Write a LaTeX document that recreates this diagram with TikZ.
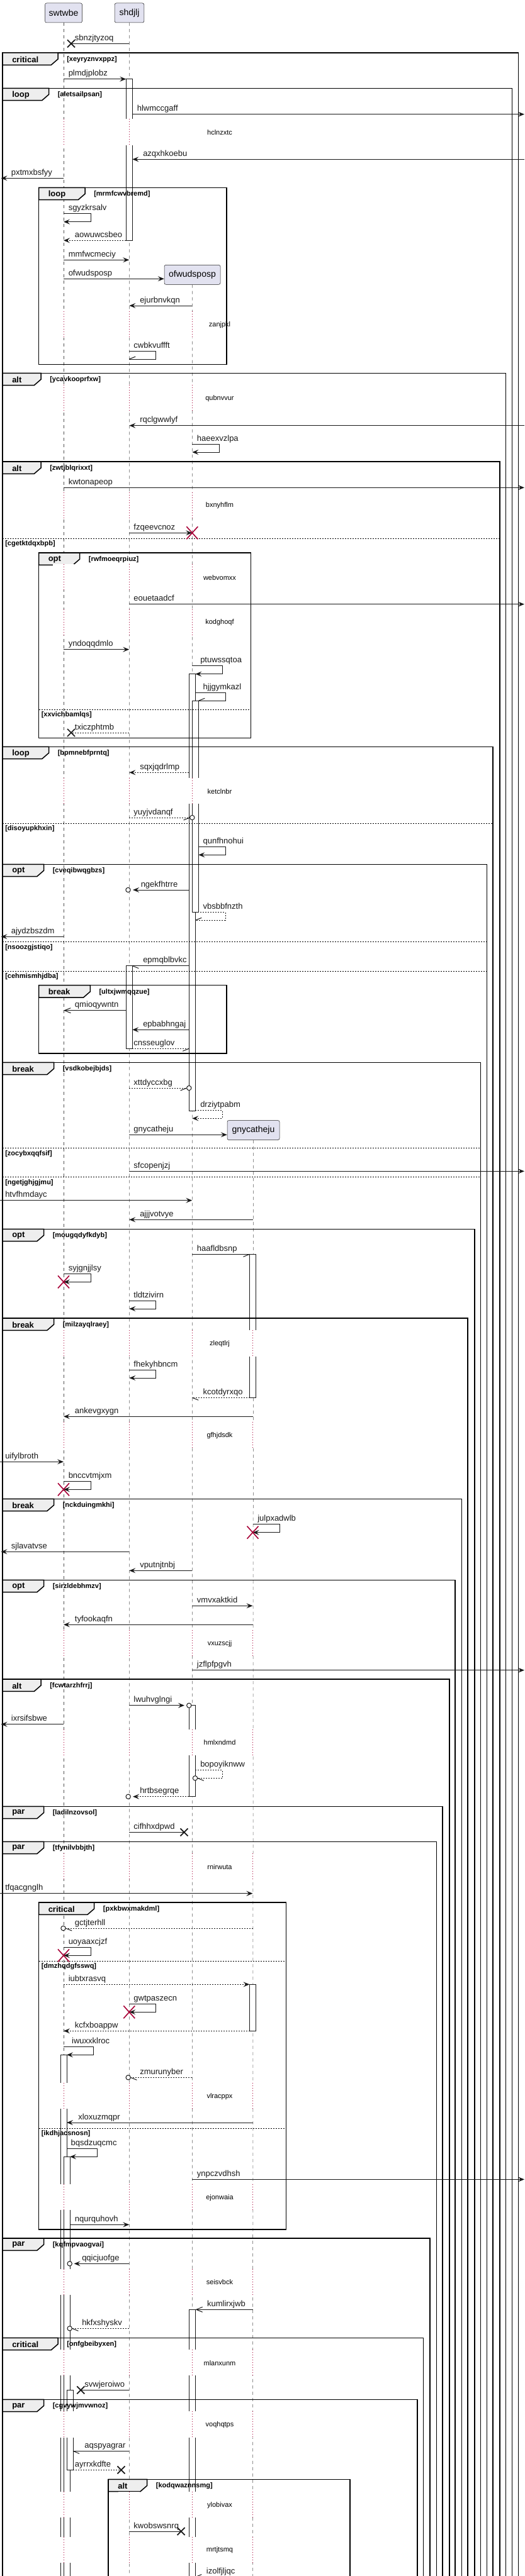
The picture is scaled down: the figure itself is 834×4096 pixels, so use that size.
\documentclass[tikz,border=0pt]{standalone}
\usepackage{fontspec}
\setmainfont{Liberation Sans}
\usetikzlibrary{arrows.meta}
\definecolor{ink}{HTML}{181818}
\definecolor{crimson}{HTML}{A80036}
\definecolor{partfill}{HTML}{E2E2F0}
\definecolor{tabgray}{HTML}{EEEEEE}

% message: [style]{from x}{to x}{y}{text x}{text}
\newcommand\smsg[6][]{\draw[msgline,#1] (#2,#4) -- (#3,#4);
  \node[mtext] at (#5,#4-5) {#6};}
% self message: [style]{start x}{right x}{tip x}{y1}{y2}{text x}{text}
\newcommand\selfmsg[8][]{\draw[msgline,#1] (#2,#5) -- (#3,#5) -- (#3,#6) -- (#4,#6);
  \node[mtext] at (#7,#5-5) {#8};}
\newcommand\halfbarb[4]{\draw[msgline] (#1,#2) -- ++(#3,#4);}
\newcommand\lostx[2]{\draw[msgline,line width=1.3pt] (#1-6,#2-6) -- (#1+6,#2+6) (#1-6,#2+6) -- (#1+6,#2-6);}
\newcommand\killx[2]{\draw[crimson,line width=1.2pt] (#1-9,#2-10) -- (#1+9,#2+10) (#1-9,#2+10) -- (#1+9,#2-10);}
\newcommand\openring[2]{\draw[msgline,fill=white] (#1,#2) circle[radius=3.7];}
\newcommand\actbox[4]{\draw[actbar] (#1,#3) rectangle (#2,#4);}
% group: {left}{top}{right}{bottom}{tab right}{keyword}{condition}
\newcommand\seqgroup[7]{\draw[frameline] (#1,#2) rectangle (#3,#4);
  \draw[frameline,fill=tabgray] (#1,#2) -- (#5,#2) -- (#5,#2+10) -- (#5-10.7,#2+19.3) -- (#1,#2+19.3) -- cycle;
  \node[grpkey] at (#1+15,#2+10.5) {#6};
  \node[grpcond] at (#5+14,#2+10.5) {[#7]};}
\newcommand\elseline[4]{\draw[elsedash] (#1,#2) -- (#3,#2);
  \node[grpcond] at (#1+4,#2+8.5) {[#4]};}
\newcommand\waitgap[3]{\foreach \lx in {#2}{%
    \fill[white] (\lx-17,#1-21.5) rectangle (\lx+17,#1+20);
    \draw[delayline] (\lx,#1-21.5) -- (\lx,#1+20);}
  \node[delaytext] at (349,#1) {#3};}

\def\xA{101}
\def\xB{205.3}
\def\xC{305.3}
\def\xD{401.5}

\begin{document}
\begin{tikzpicture}[x=0.75pt,y=-0.75pt,
  lifeline/.style={draw=ink!75, line width=0.375pt, dash pattern=on 3.75pt off 3.75pt},
  delayline/.style={draw=crimson, line width=0.75pt, dash pattern=on 0.75pt off 2.25pt},
  actbar/.style={draw=ink, fill=white, line width=0.75pt},
  frameline/.style={draw=black, line width=1.125pt},
  elsedash/.style={draw=black, line width=0.75pt, dash pattern=on 1.5pt off 1.5pt},
  msgline/.style={draw=ink, line width=0.75pt},
  arr/.style={-{Stealth[length=7.5pt,width=6pt,inset=3pt]}},
  openarr/.style={-{Straight Barb[length=7.5pt,width=6pt]}},
  ret/.style={dash pattern=on 1.5pt off 1.5pt},
  mtext/.style={font=\fontsize{9.75}{11}\selectfont, anchor=base west, inner sep=0pt, text=ink},
  grpkey/.style={font=\bfseries\fontsize{9.75}{11}\selectfont, anchor=west, inner sep=0pt},
  grpcond/.style={font=\bfseries\fontsize{8.25}{10}\selectfont, anchor=west, inner sep=0pt},
  delaytext/.style={font=\fontsize{8.25}{10}\selectfont, inner sep=0pt},
  partbox/.style={draw=ink, fill=partfill, rounded corners=1.9pt, line width=0.375pt,
    font=\fontsize{10.5}{12}\selectfont, minimum height=23.25pt, inner sep=0pt}]
\useasboundingbox (0,0) rectangle (834,4096);
\clip (0,0) rectangle (834,4096);

% participants and lifelines
\node[partbox, minimum width=44.25pt] (swtwbe) at (101,20.5) {swtwbe};
\node[partbox, minimum width=34.9pt] (shdjlj) at (205.5,20.5) {shdjlj};
\node[partbox, minimum width=66.75pt] (ofwudsposp) at (305.5,436.8) {ofwudsposp};
\node[partbox, minimum width=62.25pt] (gnycatheju) at (402.5,1797) {gnycatheju};
\draw[lifeline] (swtwbe.south) -- (\xA,4110);
\draw[lifeline] (shdjlj.south) -- (\xB,4110);
\draw[lifeline] (ofwudsposp.south) -- (\xC,4110);
\draw[lifeline] (gnycatheju.south) -- (\xD,4110);

% activations
\actbox{200.3}{210.3}{125.7}{382.3}
\actbox{300.3}{310.3}{1071.7}{1766}
\actbox{305.3}{315.3}{1114.3}{1450.7}
\actbox{200.3}{210.3}{1535.7}{1667.3}
\actbox{396.5}{406.5}{1994.3}{2222.3}
\actbox{300.3}{310.3}{2711.7}{2856.7}
\actbox{396.5}{406.5}{3155.3}{3229.3}
\actbox{96}{106}{3267.3}{4110}
\actbox{101}{111}{3429.3}{4110}
\actbox{106}{116}{3800.3}{3927.3}
\actbox{300.3}{310.3}{3672.3}{4110}

% groups
\seqgroup{4}{84}{823.3}{4110}{92}{critical}{xeyryznvxppz}
\seqgroup{4}{140.3}{813.5}{4110}{77.5}{loop}{aletsailpsan}
\seqgroup{61.5}{298.3}{360}{579.3}{135}{loop}{mrmfcwvbremd}
\seqgroup{4}{593.3}{803.5}{4110}{65}{alt}{ycavkooprfxw}
\seqgroup{4}{734}{794}{4110}{65}{alt}{zwtjblqrixxt}
\elseline{4}{856}{794}{cgetktdqxbpb}
\seqgroup{61.5}{879}{398.3}{1173.3}{126.7}{opt}{rwfmoeqrpiuz}
\elseline{61.5}{1128.3}{398.3}{xxvichbamlqs}
\seqgroup{4}{1187.3}{783}{4110}{77.5}{loop}{bpmnebfprntq}
\elseline{4}{1309.3}{783}{disoyupkhxin}
\seqgroup{4}{1374.3}{773.5}{4110}{69.5}{opt}{cveqibwqgbzs}
\elseline{4}{1497.7}{773.5}{nsoozgjstiqo}
\elseline{4}{1544}{773.5}{cehmismhjdba}
\seqgroup{61.5}{1566.7}{360}{1675}{143.3}{break}{ultxjwmqqzue}
\seqgroup{4}{1689.3}{763.5}{4110}{85.5}{break}{vsdkobejbjds}
\elseline{4}{1825.7}{763.5}{zocybxqqfsif}
\elseline{4}{1871.7}{763.5}{ngetjghjgjmu}
\seqgroup{4}{1954.3}{754}{4110}{69.5}{opt}{mougqdyfkdyb}
\seqgroup{4}{2096}{743}{4110}{85.5}{break}{milzayqlraey}
\seqgroup{4}{2383.3}{733.5}{4110}{85.5}{break}{nckduingmkhi}
\seqgroup{4}{2512.3}{723}{4110}{69.5}{opt}{sirzldebhmzv}
\seqgroup{4}{2670}{714}{4110}{65}{alt}{fcwtarzhfrrj}
\seqgroup{4}{2872.3}{703}{4110}{69.5}{par}{ladilnzovsol}
\seqgroup{4}{2928.3}{693.5}{4110}{69.5}{par}{tfynilvbbjth}
\seqgroup{61.5}{3025}{454.4}{3545}{149.7}{critical}{pxkbwxmakdml}
\elseline{61.5}{3118.3}{454.4}{dmzhqdgfsswq}
\elseline{61.5}{3384}{454.4}{ikdhjacsnosn}
\seqgroup{4}{3559}{683}{4110}{69.5}{par}{kqfmpvaogvai}
\seqgroup{4}{3717.3}{672.5}{4110}{92}{critical}{onfgbeibyxen}
\seqgroup{4}{3815.3}{663}{4110}{69.5}{par}{cgvywjmvwnoz}
\seqgroup{172.1}{3942.3}{556}{4110}{233.6}{alt}{kodqwaznnsmg}

% delays
\waitgap{211}{\xA,\xB}{hclnzxtc}
\waitgap{516.7}{\xA,\xB,\xC}{zanjpkl}
\waitgap{633.3}{\xA,\xB,\xC}{qubnvvur}
\waitgap{804}{\xA,\xB,\xC}{bxnyhflm}
\waitgap{918.3}{\xA,\xB,\xC}{webvomxx}
\waitgap{990}{\xA,\xB,\xC}{kodghoqf}
\waitgap{1258.3}{\xA,\xB,\xC}{ketclnbr}
\waitgap{2136.7}{\xA,\xB,\xC,\xD}{zleqtlrj}
\waitgap{2282.3}{\xA,\xB,\xC,\xD}{gfhjdsdk}
\waitgap{2613.3}{\xA,\xB,\xC,\xD}{vxuzscjj}
\waitgap{2771}{\xA,\xB,\xC,\xD}{hmlxndmd}
\waitgap{2968.3}{\xA,\xB,\xC,\xD}{rnirwuta}
\waitgap{3333.3}{\xA,\xB,\xC,\xD}{vlracppx}
\waitgap{3494.3}{\xA,\xB,\xC,\xD}{ejonwaia}
\waitgap{3629}{\xA,\xB,\xC,\xD}{seisvbck}
\waitgap{3757.3}{\xA,\xB,\xC,\xD}{mlanxunm}
\waitgap{3855.7}{\xA,\xB,\xC,\xD}{voqhqtps}
\waitgap{3983.3}{\xA,\xB,\xC,\xD}{ylobivax}
\waitgap{4055}{\xA,\xB,\xC,\xD}{mrtjtsmq}

% messages
\smsg{\xB}{\xA+12}{69.3}{118.7}{sbnzjtyzoq} \lostx{\xA+12}{69.3}
\smsg[arr]{\xA}{200.3}{125.7}{108.5}{plmdjplobz}
\smsg[arr]{210.3}{833}{181.7}{217.6}{hlwmccgaff}
\smsg[arr]{833}{210.3}{253.3}{227}{azqxhkoebu}
\smsg[arr]{\xA}{1.5}{283.3}{17.6}{pxtmxbsfyy}
\selfmsg[arr]{\xA}{144.3}{\xA}{339.3}{352.7}{108.5}{sgyzkrsalv}
\smsg[ret,arr]{200.3}{\xA}{382.3}{118.7}{aowuwcsbeo}
\smsg[arr]{\xA}{\xB}{413.3}{108.5}{mmfwcmeciy}
\draw[msgline,arr] (\xA,443.3) -- (ofwudsposp.west |- 0,443.3);
\node[mtext] at (108.5,438.3) {ofwudsposp};
\smsg[arr]{\xC}{\xB}{486}{222}{ejurbnvkqn}
\selfmsg{\xB}{247.5}{\xB}{558.3}{571}{212.2}{cwbkvuffft} \halfbarb{\xB}{571}{10}{-4}
\smsg[arr]{833}{\xB}{676.7}{222}{rqclgwwlyf}
\selfmsg[arr]{\xC}{348}{\xC}{706.7}{719}{312.7}{haeexvzlpa}
\smsg[arr]{\xA}{833}{775.3}{108.5}{kwtonapeop}
\smsg[arr]{\xB}{\xC}{847.3}{212.2}{fzqeevcnoz} \killx{\xC}{847.3}
\smsg[arr]{\xB}{833}{960.7}{212.2}{eouetaadcf}
\smsg[arr]{\xA}{\xB}{1032.7}{108.5}{yndoqqdmlo}
\selfmsg[arr]{\xC}{353}{310.3}{1058.3}{1071.7}{318}{ptuwssqtoa}
\selfmsg{310.3}{358}{315.3}{1101}{1114.3}{322.4}{hjjgymkazl} \halfbarb{315.3}{1114.3}{10}{-4}
\smsg[ret]{\xB}{\xA+12}{1165}{118.7}{txiczphtmb} \lostx{\xA+12}{1165}
\smsg[ret,arr]{300.3}{\xB}{1228.3}{222}{sqxjqdrlmp}
\smsg[ret]{\xB}{301.6}{1300}{212.2}{yuyjvdanqf} \halfbarb{301.6}{1300}{-10}{4} \openring{\xC}{1300}
\selfmsg[arr]{315.3}{358}{315.3}{1346.7}{1359.3}{322.4}{qunfhnohui}
\smsg[arr]{300.3}{211}{1415}{223.5}{ngekfhtrre} \openring{203.5}{1415}
\selfmsg[ret]{310.3}{358}{310.3}{1450.7}{1463.3}{322.4}{vbsbbfnzth} \halfbarb{310.3}{1463.3}{10}{-4}
\smsg[arr]{\xA}{1.5}{1489.3}{17.6}{ajydzbszdm}
\smsg{300.3}{210.3}{1535.7}{227}{epmqblbvkc} \halfbarb{210.3}{1535.7}{10}{4}
\smsg[openarr]{200.3}{\xA}{1606.7}{118.7}{qmioqywntn}
\smsg[arr]{300.3}{210.3}{1637.3}{227}{epbabhngaj}
\smsg[ret]{210.3}{300.3}{1667.3}{212.2}{cnsseuglov} \halfbarb{300.3}{1667.3}{-10}{4}
\smsg[ret]{\xB}{296.6}{1730}{212.2}{xttdyccxbg} \halfbarb{296.6}{1730}{-10}{4} \openring{300.3}{1730}
\selfmsg[ret,arr]{310.3}{353}{\xC}{1765.7}{1778.3}{318}{drziytpabm}
\draw[msgline,arr] (\xB,1804.3) -- (gnycatheju.west |- 0,1804.3);
\node[mtext] at (212.2,1799.3) {gnycatheju};
\smsg[arr]{\xB}{833}{1862.3}{212.2}{sfcopenjzj}
\smsg[arr]{0}{\xC}{1908.7}{8}{htvfhmdayc}
\smsg[arr]{\xD}{\xB}{1939.3}{222}{ajjjvotvye}
\smsg{\xC}{396.5}{1994.3}{312.7}{haafldbsnp} \halfbarb{396.5}{1994.3}{-10}{4}
\selfmsg[arr]{\xA}{144.3}{\xA}{2025.7}{2038.3}{108.5}{syjgnjjlsy} \killx{\xA}{2038.3}
\selfmsg[arr]{\xB}{247.5}{\xB}{2068.3}{2081}{212.2}{tldtzivirn}
\selfmsg[arr]{\xB}{247.5}{\xB}{2178.3}{2191}{212.2}{fhekyhbncm}
\smsg[ret]{396.5}{\xC}{2222.3}{322.4}{kcotdyrxqo} \halfbarb{\xC}{2222.3}{10}{4}
\smsg[arr]{\xD}{\xA}{2252.3}{118.7}{ankevgxygn}
\smsg[arr]{0}{\xA}{2324.3}{8}{uifylbroth}
\selfmsg[arr]{\xA}{144.3}{\xA}{2355}{2368.3}{108.5}{bnccvtmjxm} \killx{\xA}{2368.3}
\selfmsg[arr]{\xD}{444.8}{\xD}{2423.3}{2436.7}{409}{julpxadwlb} \killx{\xD}{2436.7}
\smsg[arr]{\xB}{1.5}{2467.3}{17.6}{sjlavatvse}
\smsg[arr]{\xC}{\xB}{2497.3}{222}{vputnjtnbj}
\smsg[arr]{\xC}{\xD}{2553.3}{312.7}{vmvxaktkid}
\smsg[arr]{\xD}{\xA}{2583.3}{118.7}{tyfookaqfn}
\smsg[arr]{\xC}{833}{2655.7}{312.7}{jzflpfpgvh}
\smsg[arr]{\xB}{293}{2711.7}{212.2}{lwuhvglngi} \openring{300.3}{2711.7}
\smsg[arr]{\xA}{1.5}{2741.7}{17.6}{ixrsifsbwe}
\selfmsg[ret]{310.3}{353}{313.7}{2814.3}{2827.3}{318}{bopoyiknww} \halfbarb{313.7}{2827.3}{10}{4} \openring{310}{2827.3}
\smsg[ret,arr]{300.3}{211}{2856.7}{222}{hrtbsegrqe} \openring{203.7}{2856.7}
\smsg{\xB}{292.5}{2913.3}{212.2}{cifhhxdpwd} \lostx{292.5}{2913.3}
\smsg[arr]{0}{\xD}{3010.7}{8}{tfqacgnglh}
\smsg[ret]{\xD}{104.2}{3066}{118.7}{gctjterhll} \halfbarb{104.2}{3066}{10}{4} \openring{100.5}{3066}
\selfmsg[arr]{\xA}{144.3}{\xA}{3096}{3109.3}{108.5}{uoyaaxcjzf} \killx{\xA}{3109.3}
\smsg[ret,arr]{\xA}{396.5}{3155.3}{108.5}{iubtxrasvq}
\selfmsg[arr]{\xB}{247.5}{\xB}{3186}{3199.3}{212.2}{gwtpaszecn} \killx{\xB}{3199.3}
\smsg[ret,arr]{396.5}{\xA}{3229.3}{118.7}{kcfxboappw}
\selfmsg[arr]{\xA}{148.6}{106}{3254.3}{3267.3}{113.9}{iwuxxklroc}
\smsg[ret]{\xC}{207.4}{3303.3}{222}{zmurunyber} \halfbarb{207.4}{3303.3}{10}{4} \openring{203.7}{3303.3}
\smsg[arr]{\xD}{106}{3375}{124}{xloxuzmqpr}
\selfmsg[arr]{106}{154.5}{111}{3416}{3429.3}{112.3}{bqsdzuqcmc}
\smsg[arr]{\xC}{833}{3465.3}{312.7}{ynpczvdhsh}
\smsg[arr]{111}{\xB}{3537.3}{118.7}{nqurquhovh}
\smsg[arr]{\xB}{117.6}{3599.3}{130}{qqicjuofge} \openring{110.7}{3599.3}
\smsg[openarr]{\xD}{310.3}{3672.3}{328.8}{kumlirxjwb}
\smsg[ret]{\xB}{114.4}{3702.3}{130}{hkfxshyskv} \halfbarb{114.4}{3702.3}{10}{4} \openring{110.7}{3702.3}
\smsg{\xB}{128.3}{3800.3}{134.2}{svwjeroiwo} \lostx{128.3}{3800.3}
\smsg{\xB}{116}{3897.3}{134.2}{aqspyagrar} \halfbarb{116}{3897.3}{10}{4}
\smsg[ret]{116}{192.5}{3927.3}{118.7}{ayrrxkdfte} \lostx{192.5}{3927.3}
\smsg{\xB}{287.6}{4025}{212.2}{kwobswsnrq} \lostx{287.6}{4025}
\smsg{\xD}{310.3}{4097.5}{327.7}{izolfjljqc} \halfbarb{310.3}{4097.5}{10}{-4}
\end{tikzpicture}
\end{document}
